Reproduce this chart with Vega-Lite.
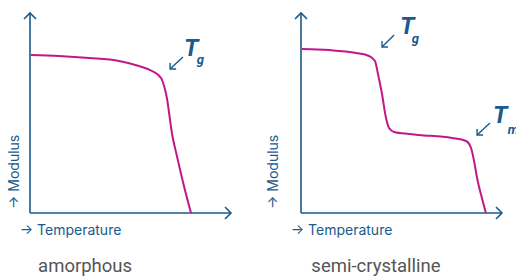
{
  "$schema": "https://vega.github.io/schema/vega-lite/v6.json",
  "background": "white",
  "padding": {"left": 7, "top": 9, "right": 0, "bottom": 0},
  "config": {"view": {"stroke": null}},
  "data": {"values": [
    {"panel": "amorphous", "kind": "axis", "x": 0, "y": 0, "x2": 100, "y2": 0},
    {"panel": "amorphous", "kind": "axis", "x": 0, "y": 0, "x2": 0, "y2": 100},
    {"panel": "amorphous", "kind": "xhead", "x": 100, "y": 0},
    {"panel": "amorphous", "kind": "yhead", "x": 0, "y": 100},
    {"panel": "amorphous", "kind": "curve", "x": 0.5, "y": 79},
    {"panel": "amorphous", "kind": "curve", "x": 14.4, "y": 78.5},
    {"panel": "amorphous", "kind": "curve", "x": 29.4, "y": 77.5},
    {"panel": "amorphous", "kind": "curve", "x": 44.3, "y": 76},
    {"panel": "amorphous", "kind": "curve", "x": 54.2, "y": 73.5},
    {"panel": "amorphous", "kind": "curve", "x": 60.7, "y": 71},
    {"panel": "amorphous", "kind": "curve", "x": 65.2, "y": 67.5},
    {"panel": "amorphous", "kind": "curve", "x": 66.7, "y": 63.5},
    {"panel": "amorphous", "kind": "curve", "x": 68.2, "y": 57},
    {"panel": "amorphous", "kind": "curve", "x": 69.2, "y": 50},
    {"panel": "amorphous", "kind": "curve", "x": 70.6, "y": 40},
    {"panel": "amorphous", "kind": "curve", "x": 73.1, "y": 28.5},
    {"panel": "amorphous", "kind": "curve", "x": 76.6, "y": 13.5},
    {"panel": "amorphous", "kind": "curve", "x": 80.1, "y": 0},
    {"panel": "amorphous", "kind": "pointer", "x": 76.1, "y": 78, "x2": 69.7, "y2": 72},
    {"panel": "amorphous", "kind": "T", "label": "T", "x": 76.6, "y": 78.5},
    {"panel": "amorphous", "kind": "sub", "label": "g", "x": 83.0, "y": 74.5},
    {"panel": "amorphous", "kind": "xtitle", "label": "→ Temperature", "x": -5.1, "y": -11},
    {"panel": "amorphous", "kind": "ytitle", "label": "→ Modulus", "x": -7.5, "y": 2},
    {"panel": "amorphous", "kind": "caption", "label": "amorphous", "x": 27.4, "y": -29.5},
    {"panel": "semi-crystalline", "kind": "axis", "x": 0, "y": 0, "x2": 100, "y2": 0},
    {"panel": "semi-crystalline", "kind": "axis", "x": 0, "y": 0, "x2": 0, "y2": 100},
    {"panel": "semi-crystalline", "kind": "xhead", "x": 100, "y": 0},
    {"panel": "semi-crystalline", "kind": "yhead", "x": 0, "y": 100},
    {"panel": "semi-crystalline", "kind": "curve", "x": 0.5, "y": 82},
    {"panel": "semi-crystalline", "kind": "curve", "x": 13.9, "y": 81.5},
    {"panel": "semi-crystalline", "kind": "curve", "x": 27.4, "y": 80},
    {"panel": "semi-crystalline", "kind": "curve", "x": 33.8, "y": 78.5},
    {"panel": "semi-crystalline", "kind": "curve", "x": 36.8, "y": 76},
    {"panel": "semi-crystalline", "kind": "curve", "x": 38.3, "y": 69.5},
    {"panel": "semi-crystalline", "kind": "curve", "x": 40.3, "y": 59.5},
    {"panel": "semi-crystalline", "kind": "curve", "x": 42.3, "y": 47.5},
    {"panel": "semi-crystalline", "kind": "curve", "x": 43.8, "y": 42.5},
    {"panel": "semi-crystalline", "kind": "curve", "x": 46.3, "y": 40.5},
    {"panel": "semi-crystalline", "kind": "curve", "x": 53.7, "y": 39.5},
    {"panel": "semi-crystalline", "kind": "curve", "x": 58.7, "y": 39},
    {"panel": "semi-crystalline", "kind": "curve", "x": 75.1, "y": 37.5},
    {"panel": "semi-crystalline", "kind": "curve", "x": 82.1, "y": 36},
    {"panel": "semi-crystalline", "kind": "curve", "x": 84.6, "y": 32.5},
    {"panel": "semi-crystalline", "kind": "curve", "x": 86.1, "y": 26},
    {"panel": "semi-crystalline", "kind": "curve", "x": 87.6, "y": 17.5},
    {"panel": "semi-crystalline", "kind": "curve", "x": 90.0, "y": 7.5},
    {"panel": "semi-crystalline", "kind": "curve", "x": 92.0, "y": 0},
    {"panel": "semi-crystalline", "kind": "pointer", "x": 46.3, "y": 89, "x2": 40.3, "y2": 83},
    {"panel": "semi-crystalline", "kind": "pointer", "x": 94.0, "y": 45, "x2": 87.6, "y2": 39},
    {"panel": "semi-crystalline", "kind": "T", "label": "T", "x": 49.3, "y": 89.5},
    {"panel": "semi-crystalline", "kind": "sub", "label": "g", "x": 55.1, "y": 85},
    {"panel": "semi-crystalline", "kind": "T", "label": "T", "x": 95.5, "y": 45},
    {"panel": "semi-crystalline", "kind": "sub", "label": "m", "x": 102.8, "y": 39.5},
    {"panel": "semi-crystalline", "kind": "xtitle", "label": "→ Temperature", "x": -5.1, "y": -11},
    {"panel": "semi-crystalline", "kind": "ytitle", "label": "→ Modulus", "x": -13.4, "y": 2},
    {"panel": "semi-crystalline", "kind": "caption", "label": "semi-crystalline", "x": 37.3, "y": -29.5}
  ]},
  "facet": {"column": {"field": "panel", "type": "nominal", "header": null}},
  "spacing": 70,
  "bounds": "flush",
  "spec": {
    "width": 201,
    "height": 200,
    "layer": [
      {
        "transform": [{"filter": "datum.kind === 'axis'"}],
        "mark": {"type": "rule", "color": "#1a5a8c", "strokeWidth": 1.6},
        "encoding": {
          "x": {"field": "x", "type": "quantitative", "scale": {"domain": [0, 100], "nice": false, "zero": false}, "axis": null},
          "y": {"field": "y", "type": "quantitative", "scale": {"domain": [0, 100], "nice": false, "zero": false}, "axis": null},
          "x2": {"field": "x2"},
          "y2": {"field": "y2"}
        }
      },
      {
        "transform": [{"filter": "datum.kind === 'xhead'"}],
        "mark": {"type": "point", "shape": "M-1,-1L0,0L-1,1", "filled": false, "stroke": "#1a5a8c", "strokeWidth": 1.6, "size": 144, "opacity": 1},
        "encoding": {
          "x": {"field": "x", "type": "quantitative", "scale": {"domain": [0, 100], "nice": false, "zero": false}, "axis": null},
          "y": {"field": "y", "type": "quantitative", "scale": {"domain": [0, 100], "nice": false, "zero": false}, "axis": null}
        }
      },
      {
        "transform": [{"filter": "datum.kind === 'yhead'"}],
        "mark": {"type": "point", "shape": "M-1,1L0,0L1,1", "filled": false, "stroke": "#1a5a8c", "strokeWidth": 1.6, "size": 144, "opacity": 1},
        "encoding": {
          "x": {"field": "x", "type": "quantitative", "scale": {"domain": [0, 100], "nice": false, "zero": false}, "axis": null},
          "y": {"field": "y", "type": "quantitative", "scale": {"domain": [0, 100], "nice": false, "zero": false}, "axis": null}
        }
      },
      {
        "transform": [{"filter": "datum.kind === 'curve'"}],
        "mark": {"type": "line", "interpolate": "monotone", "color": "#c2168b", "strokeWidth": 2},
        "encoding": {
          "x": {"field": "x", "type": "quantitative", "scale": {"domain": [0, 100], "nice": false, "zero": false}, "axis": null},
          "y": {"field": "y", "type": "quantitative", "scale": {"domain": [0, 100], "nice": false, "zero": false}, "axis": null}
        }
      },
      {
        "transform": [{"filter": "datum.kind === 'pointer'"}],
        "mark": {"type": "rule", "color": "#1a5a8c", "strokeWidth": 1.4},
        "encoding": {
          "x": {"field": "x", "type": "quantitative", "scale": {"domain": [0, 100], "nice": false, "zero": false}, "axis": null},
          "y": {"field": "y", "type": "quantitative", "scale": {"domain": [0, 100], "nice": false, "zero": false}, "axis": null},
          "x2": {"field": "x2"},
          "y2": {"field": "y2"}
        }
      },
      {
        "transform": [{"filter": "datum.kind === 'pointer'"}],
        "mark": {"type": "point", "shape": "M0,-1L0,0L1,0", "filled": false, "stroke": "#1a5a8c", "strokeWidth": 1.4, "size": 144, "opacity": 1},
        "encoding": {
          "x": {"field": "x2", "type": "quantitative", "scale": {"domain": [0, 100], "nice": false, "zero": false}, "axis": null},
          "y": {"field": "y2", "type": "quantitative", "scale": {"domain": [0, 100], "nice": false, "zero": false}, "axis": null}
        }
      },
      {
        "transform": [{"filter": "datum.kind === 'T'"}],
        "mark": {"type": "text", "font": "Roboto", "fontSize": 24, "fontWeight": "bold", "fontStyle": "italic", "align": "left", "baseline": "alphabetic", "color": "#1a5a8c"},
        "encoding": {
          "x": {"field": "x", "type": "quantitative", "scale": {"domain": [0, 100], "nice": false, "zero": false}, "axis": null},
          "y": {"field": "y", "type": "quantitative", "scale": {"domain": [0, 100], "nice": false, "zero": false}, "axis": null},
          "text": {"field": "label"}
        }
      },
      {
        "transform": [{"filter": "datum.kind === 'sub'"}],
        "mark": {"type": "text", "font": "Roboto", "fontSize": 13, "fontWeight": "bold", "fontStyle": "italic", "align": "left", "baseline": "alphabetic", "color": "#1a5a8c"},
        "encoding": {
          "x": {"field": "x", "type": "quantitative", "scale": {"domain": [0, 100], "nice": false, "zero": false}, "axis": null},
          "y": {"field": "y", "type": "quantitative", "scale": {"domain": [0, 100], "nice": false, "zero": false}, "axis": null},
          "text": {"field": "label"}
        }
      },
      {
        "transform": [{"filter": "datum.kind === 'xtitle'"}],
        "mark": {"type": "text", "font": "Inter", "fontSize": 14, "align": "left", "baseline": "alphabetic", "color": "#1a5a8c"},
        "encoding": {
          "x": {"field": "x", "type": "quantitative", "scale": {"domain": [0, 100], "nice": false, "zero": false}, "axis": null},
          "y": {"field": "y", "type": "quantitative", "scale": {"domain": [0, 100], "nice": false, "zero": false}, "axis": null},
          "text": {"field": "label"}
        }
      },
      {
        "transform": [{"filter": "datum.kind === 'ytitle'"}],
        "mark": {"type": "text", "font": "Inter", "fontSize": 14, "angle": 270, "align": "left", "baseline": "middle", "color": "#1a5a8c"},
        "encoding": {
          "x": {"field": "x", "type": "quantitative", "scale": {"domain": [0, 100], "nice": false, "zero": false}, "axis": null},
          "y": {"field": "y", "type": "quantitative", "scale": {"domain": [0, 100], "nice": false, "zero": false}, "axis": null},
          "text": {"field": "label"}
        }
      },
      {
        "transform": [{"filter": "datum.kind === 'caption'"}],
        "mark": {"type": "text", "font": "Roboto", "fontSize": 18.5, "align": "center", "baseline": "alphabetic", "color": "#555555"},
        "encoding": {
          "x": {"field": "x", "type": "quantitative", "scale": {"domain": [0, 100], "nice": false, "zero": false}, "axis": null},
          "y": {"field": "y", "type": "quantitative", "scale": {"domain": [0, 100], "nice": false, "zero": false}, "axis": null},
          "text": {"field": "label"}
        }
      }
    ]
  }
}
